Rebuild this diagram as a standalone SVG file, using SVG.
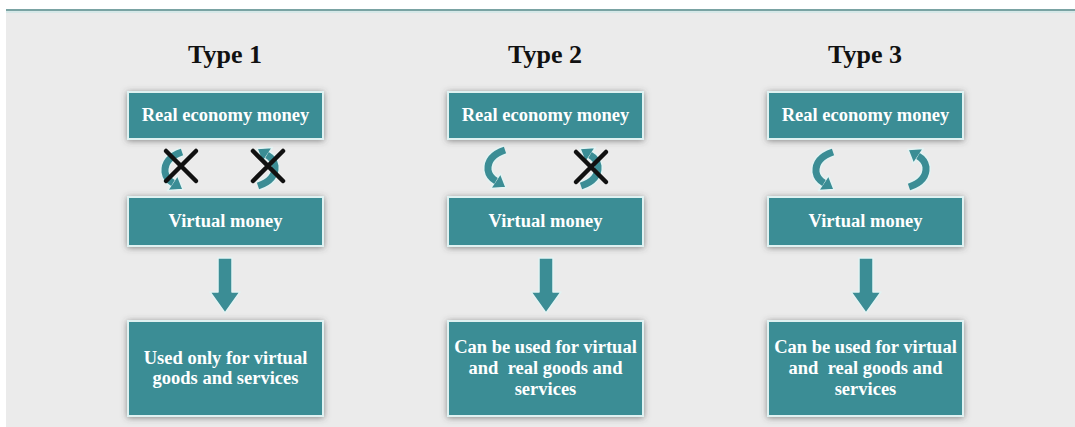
<svg xmlns="http://www.w3.org/2000/svg" width="1075" height="427" viewBox="0 0 1075 427">
<defs>
<filter id="sh" x="-20%" y="-30%" width="140%" height="160%">
<feDropShadow dx="0" dy="1" stdDeviation="3" flood-color="#444" flood-opacity="0.6"/>
</filter>
<g id="carrow">
<path d="M 20 4 Q 2 10 3 24 Q 4 31 10.5 35" fill="none" stroke="#e4f3f3" stroke-width="10"/>
<polygon points="5.5,42.5 15.5,27.5 21,41.5" fill="#3b8d95" stroke="#e4f3f3" stroke-width="1.5" stroke-linejoin="round"/>
<path d="M 20 4 Q 2 10 3 24 Q 4 31 11 35" fill="none" stroke="#3b8d95" stroke-width="7"/>
</g>
<g id="xmark">
<path d="M -15 -15 L 15 15 M 15 -15 L -15 15" stroke="#111" stroke-width="4.5" stroke-linecap="round"/>
</g>
<polygon id="darrow" points="-7,0 7,0 7,34 15,34 0,55 -15,34 -7,34" fill="#3b8d95" stroke="#e4f3f3" stroke-width="1.5" stroke-linejoin="round"/>
</defs>
<style>
.box{fill:#3b8d95;stroke:#dff1f1;stroke-width:2;filter:url(#sh)}
.bt{font-family:"Liberation Serif","Times New Roman",serif;font-weight:bold;font-size:18.5px;fill:#ffffff;text-anchor:middle}
.title{font-family:"Liberation Serif","Times New Roman",serif;font-weight:bold;font-size:26px;fill:#111;text-anchor:middle}
</style>
<rect x="0" y="0" width="1075" height="427" fill="#ffffff"/>
<rect x="6" y="12" width="1069" height="415" fill="#ebebeb"/>
<rect x="6" y="9" width="1069" height="2" fill="#7aa3a3"/>
<rect x="6" y="11" width="1069" height="2" fill="#d6e8e8"/>

<text class="title" x="225" y="63">Type 1</text>
<text class="title" x="545" y="63">Type 2</text>
<text class="title" x="865" y="63">Type 3</text>

<g id="t1-real"><rect class="box" x="128" y="92" width="195" height="47"/><text class="bt" x="225.5" y="121">Real economy money</text></g>
<g id="t1-virtual"><rect class="box" x="128" y="197" width="195" height="49"/><text class="bt" x="225.5" y="227">Virtual money</text></g>
<g id="t1-use"><rect class="box" x="128" y="321" width="195" height="95"/><text class="bt" x="225.5" y="364">Used only for virtual</text><text class="bt" x="225.5" y="384">goods and services</text></g>

<g id="t2-real"><rect class="box" x="448" y="92" width="195" height="47"/><text class="bt" x="545.5" y="121">Real economy money</text></g>
<g id="t2-virtual"><rect class="box" x="448" y="197" width="195" height="49"/><text class="bt" x="545.5" y="227">Virtual money</text></g>
<g id="t2-use"><rect class="box" x="448" y="321" width="195" height="95"/><text class="bt" x="545.5" y="353">Can be used for virtual</text><text class="bt" x="545.5" y="374" xml:space="preserve">and  real goods and</text><text class="bt" x="545.5" y="395">services</text></g>

<g id="t3-real"><rect class="box" x="768" y="92" width="195" height="47"/><text class="bt" x="865.5" y="121">Real economy money</text></g>
<g id="t3-virtual"><rect class="box" x="768" y="197" width="195" height="49"/><text class="bt" x="865.5" y="227">Virtual money</text></g>
<g id="t3-use"><rect class="box" x="768" y="321" width="195" height="95"/><text class="bt" x="865.5" y="353">Can be used for virtual</text><text class="bt" x="865.5" y="374" xml:space="preserve">and  real goods and</text><text class="bt" x="865.5" y="395">services</text></g>

<g id="connectors">
<use href="#carrow" transform="translate(162,148)"/>
<use href="#carrow" transform="translate(278,190) rotate(180)"/>
<use href="#xmark" transform="translate(181,166)"/>
<use href="#xmark" transform="translate(268,166)"/>
<use href="#darrow" transform="translate(225,258)"/>

<use href="#carrow" transform="translate(485,146)"/>
<use href="#carrow" transform="translate(601,190) rotate(180)"/>
<use href="#xmark" transform="translate(591,167)"/>
<use href="#darrow" transform="translate(546,258)"/>

<use href="#carrow" transform="translate(813,148)"/>
<use href="#carrow" transform="translate(929,191) rotate(180)"/>
<use href="#darrow" transform="translate(866,258)"/>
</g>
</svg>
